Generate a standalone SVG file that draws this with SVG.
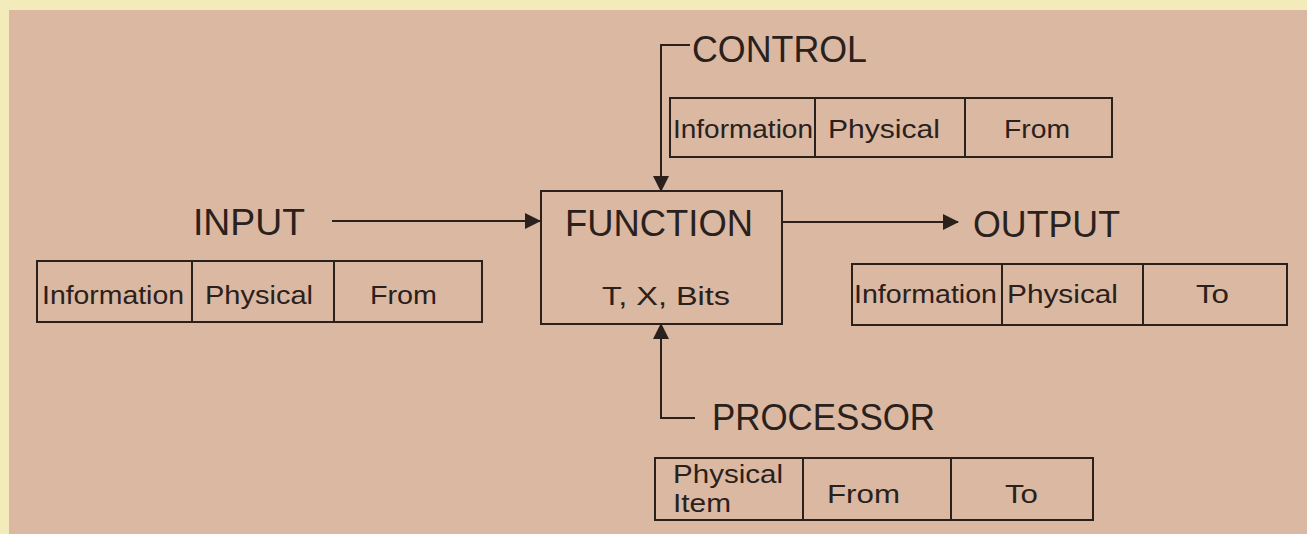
<svg xmlns="http://www.w3.org/2000/svg" width="1307" height="534" viewBox="0 0 1307 534">
  <style>
    .ln { stroke: #2a211c; stroke-width: 2; fill: none; }
    .box { stroke: #2a211c; stroke-width: 2; fill: none; }
    .big { font-family: "Liberation Sans", Arial, sans-serif; font-size: 37px; fill: #2a211c; }
    .cell { font-family: "Liberation Sans", Arial, sans-serif; font-size: 26px; fill: #2a211c; }
  </style>
  <defs>
    <marker id="arrow" viewBox="0 0 16 16" refX="15" refY="8" markerWidth="16" markerHeight="16" markerUnits="userSpaceOnUse" orient="auto">
      <path d="M0,0 L16,8 L0,16 Z" fill="#2a211c"/>
    </marker>
  </defs>

  <!-- paper -->
  <rect x="0" y="0" width="1307" height="534" fill="#f3ebb9"/>
  <rect x="9" y="10" width="1298" height="524" fill="#dbb8a2"/>

  <!-- connectors -->
  <g id="connectors">
    <path class="ln" d="M690,45 H661 V191" marker-end="url(#arrow)"/>
    <path class="ln" d="M332,221 H540" marker-end="url(#arrow)"/>
    <path class="ln" d="M782,222 H958" marker-end="url(#arrow)"/>
    <path class="ln" d="M695,418 H661 V324" marker-end="url(#arrow)"/>
  </g>

  <!-- central function -->
  <g id="function">
    <rect class="box" x="541" y="191" width="241" height="133"/>
    <text class="big" x="565" y="236" textLength="188" lengthAdjust="spacingAndGlyphs">FUNCTION</text>
    <text class="cell" x="602" y="305" font-size="28" textLength="128" lengthAdjust="spacingAndGlyphs">T, X, Bits</text>
  </g>

  <!-- control -->
  <g id="control">
    <text class="big" x="692" y="62" textLength="175" lengthAdjust="spacingAndGlyphs">CONTROL</text>
    <rect class="box" x="670" y="98" width="442" height="59"/>
    <line class="ln" x1="815" y1="98" x2="815" y2="157"/>
    <line class="ln" x1="965" y1="98" x2="965" y2="157"/>
    <text class="cell" x="673" y="138" textLength="140" lengthAdjust="spacingAndGlyphs">Information</text>
    <text class="cell" x="828" y="138" textLength="112" lengthAdjust="spacingAndGlyphs">Physical</text>
    <text class="cell" x="1004" y="138" textLength="66" lengthAdjust="spacingAndGlyphs">From</text>
  </g>

  <!-- input -->
  <g id="input">
    <text class="big" x="193" y="235" textLength="112" lengthAdjust="spacingAndGlyphs">INPUT</text>
    <rect class="box" x="37" y="261" width="445" height="61"/>
    <line class="ln" x1="192" y1="261" x2="192" y2="322"/>
    <line class="ln" x1="334" y1="261" x2="334" y2="322"/>
    <text class="cell" x="42" y="304" textLength="142" lengthAdjust="spacingAndGlyphs">Information</text>
    <text class="cell" x="205" y="304" textLength="108" lengthAdjust="spacingAndGlyphs">Physical</text>
    <text class="cell" x="370" y="304" textLength="67" lengthAdjust="spacingAndGlyphs">From</text>
  </g>

  <!-- output -->
  <g id="output">
    <text class="big" x="973" y="237" textLength="147" lengthAdjust="spacingAndGlyphs">OUTPUT</text>
    <rect class="box" x="852" y="264" width="435" height="61"/>
    <line class="ln" x1="1002" y1="264" x2="1002" y2="325"/>
    <line class="ln" x1="1143" y1="264" x2="1143" y2="325"/>
    <text class="cell" x="854" y="303" textLength="143" lengthAdjust="spacingAndGlyphs">Information</text>
    <text class="cell" x="1007" y="303" textLength="111" lengthAdjust="spacingAndGlyphs">Physical</text>
    <text class="cell" x="1196" y="303" textLength="33" lengthAdjust="spacingAndGlyphs">To</text>
  </g>

  <!-- processor -->
  <g id="processor">
    <text class="big" x="712" y="430" font-size="32" textLength="223" lengthAdjust="spacingAndGlyphs">PROCESSOR</text>
    <rect class="box" x="655" y="458" width="438" height="62"/>
    <line class="ln" x1="803" y1="458" x2="803" y2="520"/>
    <line class="ln" x1="951" y1="458" x2="951" y2="520"/>
    <text class="cell" x="673" y="483" textLength="110" lengthAdjust="spacingAndGlyphs">Physical</text>
    <text class="cell" x="673" y="512" textLength="58" lengthAdjust="spacingAndGlyphs">Item</text>
    <text class="cell" x="827" y="503" textLength="73" lengthAdjust="spacingAndGlyphs">From</text>
    <text class="cell" x="1005" y="503" textLength="33" lengthAdjust="spacingAndGlyphs">To</text>
  </g>
</svg>
